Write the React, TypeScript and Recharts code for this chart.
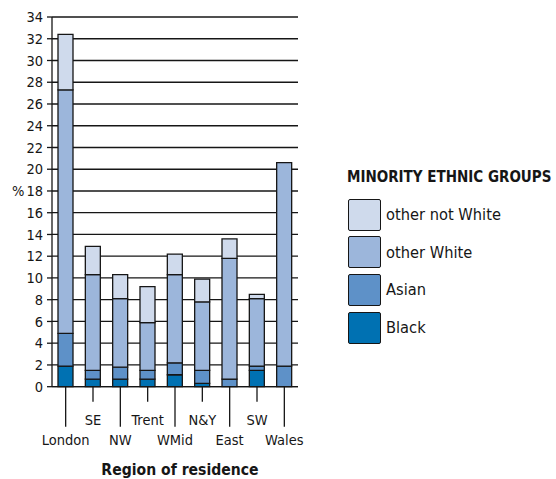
import React from "react";
import { BarChart, Bar, XAxis, YAxis, CartesianGrid, Label } from "recharts";

const regions = ["London", "SE", "NW", "Trent", "WMid", "N&Y", "East", "SW", "Wales"];
const black = [1.9, 0.7, 0.7, 0.7, 1.1, 0.3, 0, 1.5, 0];
const asian = [3.0, 0.8, 1.1, 0.8, 1.1, 1.2, 0.7, 0.4, 1.9];
const otherWhite = [22.4, 8.8, 6.3, 4.4, 8.1, 6.3, 11.1, 6.2, 18.7];
const otherNotWhite = [5.1, 2.6, 2.2, 3.3, 1.9, 2.1, 1.8, 0.4, 0];
const yTicks = [0, 2, 4, 6, 8, 10, 12, 14, 16, 18, 20, 22, 24, 26, 28, 30, 32, 34];

const series = [
  { key: "black", name: "Black", color: "#0071b2" },
  { key: "asian", name: "Asian", color: "#5e91c8" },
  { key: "otherWhite", name: "other White", color: "#9cb6db" },
  { key: "otherNotWhite", name: "other not White", color: "#cfdaec" },
];

const data = regions.map((region, i) => ({
  region,
  black: black[i],
  asian: asian[i],
  otherWhite: otherWhite[i],
  otherNotWhite: otherNotWhite[i],
}));

const FONT = '"DejaVu Sans Condensed", "Liberation Sans Narrow", sans-serif';
const INK = "#161616";

// alternate long/short ticks so the labels sit on two rows
const RegionTick = (props: any) => {
  const { x, y, payload, index } = props;
  const low = index % 2 === 0;
  return (
    <g>
      <line x1={x} y1={y} x2={x} y2={y + (low ? 40 : 15)} stroke={INK} strokeWidth={1.3} />
      <text
        x={x}
        y={y + (low ? 53 : 33)}
        textAnchor="middle"
        dominantBaseline="central"
        fontFamily={FONT}
        fontSize={14.5}
        fill={INK}
      >
        {payload.value}
      </text>
    </g>
  );
};

const LegendBox = () => (
  <div
    style={{
      position: "absolute",
      left: 347,
      top: 166,
      width: 209,
      fontFamily: FONT,
      color: INK,
      whiteSpace: "nowrap",
    }}
  >
    <div style={{ fontWeight: "bold", fontSize: 15, lineHeight: "22px", height: 22, marginBottom: 10 }}>
      MINORITY ETHNIC GROUPS
    </div>
    {[...series].reverse().map((s) => (
      <div key={s.key} style={{ display: "flex", alignItems: "center", height: 33, marginBottom: 4.7 }}>
        <div
          style={{
            width: 31,
            height: 30,
            background: s.color,
            border: `1.5px solid ${INK}`,
            borderRadius: 2,
            marginLeft: 1,
            marginRight: 5,
          }}
        />
        <span style={{ fontSize: 16.3 }}>{s.name}</span>
      </div>
    ))}
  </div>
);

export default function App() {
  return (
    <div style={{ position: "absolute", left: 0, top: 0, width: 556, height: 479, background: "#fff" }}>
      <BarChart
        width={556}
        height={479}
        data={data}
        margin={{ top: 17, right: 258, left: 7, bottom: 12.3 }}
        barSize={15}
      >
        <CartesianGrid vertical={false} stroke={INK} strokeWidth={1.3} />
        <XAxis
          dataKey="region"
          height={80}
          interval={0}
          tickLine={false}
          tickSize={0}
          tickMargin={0}
          axisLine={{ stroke: INK, strokeWidth: 1.3 }}
          tick={<RegionTick />}
        >
          <Label
            value="Region of residence"
            position="insideBottom"
            dx={5}
            dy={13}
            style={{ fontFamily: FONT, fontSize: 15.6, fontWeight: "bold", fill: INK }}
          />
        </XAxis>
        <YAxis
          width={45}
          domain={[0, 34]}
          ticks={yTicks}
          interval={0}
          tickSize={5}
          tickMargin={4}
          axisLine={{ stroke: INK, strokeWidth: 1.3 }}
          tickLine={{ stroke: INK, strokeWidth: 1.3 }}
          tick={{ fontFamily: FONT, fontSize: 14.5, fill: INK }}
        >
          <Label
            value="%"
            position="insideLeft"
            offset={5}
            dy={-11}
            style={{ fontFamily: FONT, fontSize: 14.5, fill: INK, textAnchor: "start" }}
          />
        </YAxis>
        {series.map((s) => (
          <Bar
            key={s.key}
            dataKey={s.key}
            name={s.name}
            stackId="a"
            fill={s.color}
            stroke={INK}
            strokeWidth={1.3}
            isAnimationActive={false}
          />
        ))}
      </BarChart>
      <LegendBox />
    </div>
  );
}
